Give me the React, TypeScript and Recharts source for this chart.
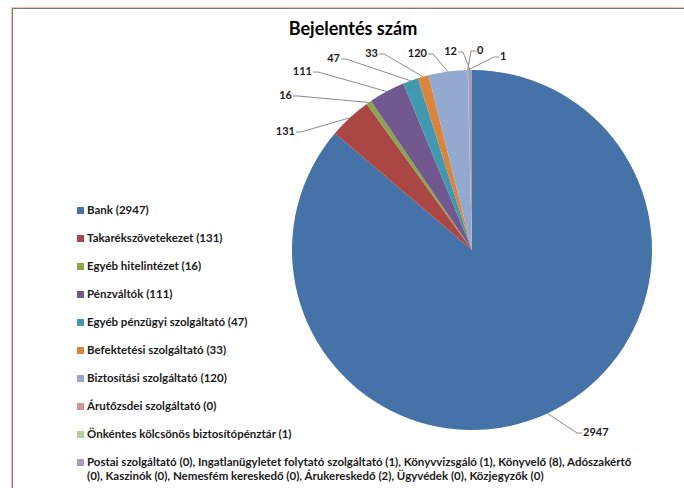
import { PieChart, Pie, Cell, Legend } from 'recharts';

const categories = [
  'Bank',
  'Takarékszövetekezet',
  'Egyéb hitelintézet',
  'Pénzváltók',
  'Egyéb pénzügyi szolgáltató',
  'Befektetési szolgáltató',
  'Biztosítási szolgáltató',
  'Árutőzsdei szolgáltató',
  'Önkéntes kölcsönös biztosítópénztár',
  'Egyéb',
];

const values = [2947, 131, 16, 111, 47, 33, 120, 0, 1, 12];

const legendLabels = [
  'Bank (2947)',
  'Takarékszövetekezet (131)',
  'Egyéb hitelintézet (16)',
  'Pénzváltók (111)',
  'Egyéb pénzügyi szolgáltató (47)',
  'Befektetési szolgáltató (33)',
  'Biztosítási szolgáltató (120)',
  'Árutőzsdei szolgáltató (0)',
  'Önkéntes kölcsönös biztosítópénztár (1)',
  'Postai szolgáltató (0), Ingatlanügyletet folytató szolgáltató (1), Könyvvizsgáló (1), Könyvelő (8), Adószakértő (0), Kaszinók (0), Nemesfém kereskedő (0), Árukereskedő (2), Ügyvédek (0), Közjegyzők (0)',
];

const COLORS = [
  '#4572a7', '#aa4643', '#89a54e', '#71588f', '#4198af',
  '#db843d', '#93a9cf', '#d19392', '#b9cd96', '#a99bbd',
];

// where Excel left each data label: [x, y, side of the text]
const LABEL_POS: [number, number, 'start' | 'end'][] = [
  [583, 431, 'start'],
  [295, 130, 'end'],
  [292, 94, 'end'],
  [312, 70, 'end'],
  [340, 57, 'end'],
  [378, 52, 'end'],
  [427, 52, 'end'],
  [477, 49, 'start'],
  [500, 55, 'start'],
  [457, 50, 'end'],
];

const FONT = 'Lato, "Liberation Sans", sans-serif';
const RAD = Math.PI / 180;

const data = categories.map((name, i) => ({ name, value: values[i], legend: legendLabels[i] }));

function renderLabel(props: any) {
  const { cx, cy, midAngle, outerRadius, index, value } = props;
  const sx = cx + outerRadius * Math.cos(-midAngle * RAD);
  const sy = cy + outerRadius * Math.sin(-midAngle * RAD);
  const [tx, ty, side] = LABEL_POS[index];
  const ly = ty + 2;
  const ex = side === 'end' ? tx + 6 : tx - 6;
  const hx = side === 'end' ? tx + 1 : tx - 1;
  return (
    <g key={`lbl-${index}`}>
      <polyline
        points={`${sx},${sy} ${ex},${ly} ${hx},${ly}`}
        fill="none"
        stroke="#8c8c8c"
        strokeWidth={1}
      />
      <text
        x={tx}
        y={ty}
        textAnchor={side}
        dominantBaseline="central"
        fontFamily={FONT}
        fontWeight={700}
        fontSize={11}
        fill="#1a1a1a"
      >
        {value}
      </text>
    </g>
  );
}

function LegendBox() {
  return (
    <div style={{ fontFamily: FONT, fontWeight: 700, fontSize: 11.5, color: '#1a1a1a' }}>
      {data.map((d, i) => (
        <div
          key={d.name}
          style={{ display: 'flex', alignItems: 'flex-start', height: i === data.length - 1 ? 30 : 28, width: 570 }}
        >
          <span
            style={{
              display: 'inline-block',
              width: 7,
              height: 7,
              marginTop: 4,
              marginRight: 3,
              flex: 'none',
              background: COLORS[i],
            }}
          />
          <span style={{ lineHeight: '14px' }}>{d.legend}</span>
        </div>
      ))}
    </div>
  );
}

export default function App() {
  return (
    <div style={{ position: 'absolute', left: 0, top: 0, width: 684, height: 488, background: '#fff', overflow: 'hidden' }}>
      <div style={{ position: 'absolute', left: 11, top: 7, right: 0, height: 1, background: '#f2c4a2' }} />
      <div style={{ position: 'absolute', left: 12, top: 8, right: 0, height: 1, background: '#7a7a7a' }} />
      <div style={{ position: 'absolute', left: 11, top: 7, bottom: 0, width: 1, background: '#f2c4a2' }} />
      <div style={{ position: 'absolute', left: 12, top: 8, bottom: 0, width: 1, background: '#7a7a7a' }} />
      <div
        style={{
          position: 'absolute',
          left: 200,
          top: 17,
          width: 306,
          textAlign: 'center',
          fontFamily: FONT,
          fontWeight: 700,
          fontSize: 18,
          color: '#000',
        }}
      >
        Bejelentés szám
      </div>
      <div style={{ position: 'absolute', left: 0, top: 0 }}>
        <PieChart width={684} height={488}>
          <Pie
            data={data}
            dataKey="value"
            nameKey="name"
            cx={467}
            cy={245}
            outerRadius={180}
            startAngle={90}
            endAngle={-270}
            stroke="none"
            label={renderLabel}
            labelLine={false}
            isAnimationActive={false}
          >
            {data.map((d, i) => (
              <Cell key={d.name} fill={COLORS[i]} />
            ))}
          </Pie>
          <Legend
            content={() => <LegendBox />}
            wrapperStyle={{ position: 'absolute', left: 77, top: 203, width: 585 }}
          />
        </PieChart>
      </div>
    </div>
  );
}
